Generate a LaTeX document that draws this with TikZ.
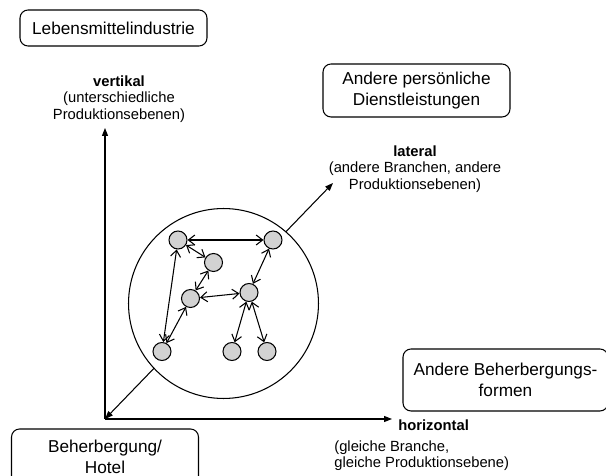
\documentclass[tikz,border=0pt]{standalone}
\usepackage{fontspec}
\setmainfont{Liberation Sans}
\usepackage{tikz}
\usetikzlibrary{arrows.meta,positioning}
\tikzset{
    sector/.style={draw, line width=0.6pt, rounded corners=0.16cm, align=center, minimum width=3.74cm, inner sep=0pt, font=\fontsize{9.8}{11.8}\selectfont},
    axislabel/.style={align=center, inner sep=0pt, font=\fontsize{8.4}{9.3}\selectfont},
    firm/.style={draw, circle, fill=gray!35, minimum size=0.36cm, inner sep=0pt, line width=0.6pt},
    cluster/.style={draw, circle, fill=white, minimum size=3.8cm, inner sep=0pt, line width=0.6pt},
    axisarr/.style={-{Triangle[length=1.6mm, width=1.2mm]}, line width=0.6pt},
    lateralarr/.style={{Triangle[length=1.6mm, width=1.2mm]}-{Triangle[length=1.6mm, width=1.2mm]}, line width=0.6pt},
    linkarr/.style={{Straight Barb[length=1.3mm, width=2mm]}-{Straight Barb[length=1.3mm, width=2mm]}, line width=0.6pt},
}

\begin{document}
\begin{tikzpicture}[x=0.02cm, y=-0.02cm]
\useasboundingbox (0,0) rectangle (606,476);

% axes
\coordinate (origin) at (105,419);
\coordinate (vtip) at (105,128);
\coordinate (htip) at (392,419);
\coordinate (ltip) at (333,183);

\draw[lateralarr] (origin) -- (ltip);
\draw[axisarr] (origin) -- (vtip);
\draw[axisarr] (origin) -- (htip);

% network of firms
\node[cluster] (net) at (223.5,303.5) {};
\node[firm] (f1) at (178,240) {};
\node[firm] (f2) at (273,240) {};
\node[firm] (f3) at (213.5,262.5) {};
\node[firm] (f4) at (190.5,298.5) {};
\node[firm] (f5) at (249,292.5) {};
\node[firm] (f6) at (162,351.5) {};
\node[firm] (f7) at (232,351.5) {};
\node[firm] (f8) at (267,351.5) {};

\draw[linkarr] (f1) -- (f2);
\draw[linkarr] (f1) -- (f3);
\draw[linkarr] (f1) -- (f6);
\draw[linkarr] (f3) -- (f4);
\draw[linkarr] (f4) -- (f5);
\draw[linkarr] (f4) -- (f6);
\draw[linkarr] (f2) -- (f5);
\draw[linkarr] (f5) -- (f7);
\draw[linkarr] (f5) -- (f8);

% sectors
\node[sector, minimum height=0.72cm] (food) at (113.5,28) {Lebensmittelindustrie};
\node[sector, minimum height=1.06cm] (services) at (416.5,90.5) {Andere persönliche\\Dienstleistungen};
\node[sector, minimum width=4.1cm, minimum height=1.24cm] (lodging) at (505.5,380) {Andere Beherbergungs-\\formen};
\node[sector, minimum height=1.1cm] (hotel) at (105,456.5) {Beherbergung/\\Hotel};

% axis labels
\node[axislabel] (vlabel) at (119,99) {\textbf{vertikal}\\(unterschiedliche\\Produktionsebenen)};
\node[axislabel] (llabel) at (415,169) {\textbf{lateral}\\(andere Branchen, andere\\Produktionsebenen)};
\node[axislabel, anchor=west] (hlabel) at (398,425) {\textbf{horizontal}};
\node[axislabel, anchor=west, align=left] (hnote) at (334,456) {(gleiche Branche,\\gleiche Produktionsebene)};
\end{tikzpicture}
\end{document}
